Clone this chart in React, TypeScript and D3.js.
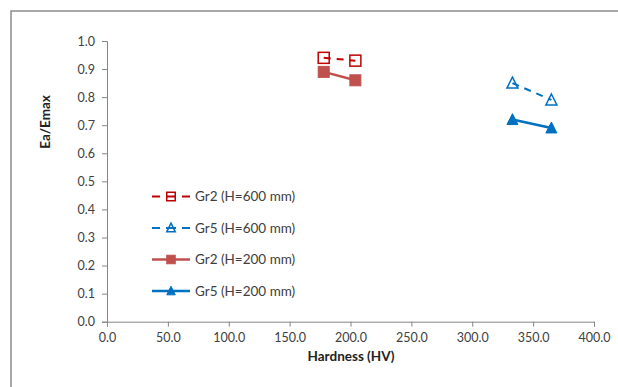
import { useEffect, useRef } from 'react';
import * as d3 from 'd3';

// hardness values (HV) for each grade
const HARD_GR2 = [178, 204];
const HARD_GR5 = [333, 365];

const EA_GR2_600 = [0.94, 0.93];
const EA_GR5_600 = [0.85, 0.79];
const EA_GR2_200 = [0.89, 0.86];
const EA_GR5_200 = [0.72, 0.69];

const X_TICKS = [0, 50, 100, 150, 200, 250, 300, 350, 400];
const Y_TICKS = [0, 0.1, 0.2, 0.3, 0.4, 0.5, 0.6, 0.7, 0.8, 0.9, 1.0];

const SERIES_NAMES = ['Gr2 (H=600 mm)', 'Gr5 (H=600 mm)', 'Gr2 (H=200 mm)', 'Gr5 (H=200 mm)'];

interface Series {
  name: string;
  xs: number[];
  ys: number[];
  color: string;
  dashed: boolean;
  marker: 'square' | 'triangle';
  filled: boolean;
}

const SERIES: Series[] = [
  { name: SERIES_NAMES[0], xs: HARD_GR2, ys: EA_GR2_600, color: '#C00000', dashed: true, marker: 'square', filled: false },
  { name: SERIES_NAMES[1], xs: HARD_GR5, ys: EA_GR5_600, color: '#0070C0', dashed: true, marker: 'triangle', filled: false },
  { name: SERIES_NAMES[2], xs: HARD_GR2, ys: EA_GR2_200, color: '#C0504D', dashed: false, marker: 'square', filled: true },
  { name: SERIES_NAMES[3], xs: HARD_GR5, ys: EA_GR5_200, color: '#0070C0', dashed: false, marker: 'triangle', filled: true },
];

const FONT = 'Lato, "Open Sans", sans-serif';

export default function App() {
  const svgRef = useRef<SVGSVGElement>(null);

  useEffect(() => {
    if (!svgRef.current) return;
    const svg = d3.select(svgRef.current);
    svg.selectAll('*').remove();

    const x = d3.scaleLinear().domain([0, 400]).range([107, 594]);
    const y = d3.scaleLinear().domain([0, 1]).range([321.7, 41]);

    // outer frame
    svg
      .append('rect')
      .attr('x', 11)
      .attr('y', 11)
      .attr('width', 640)
      .attr('height', 400)
      .attr('fill', 'white')
      .attr('stroke', '#8c8c8c')
      .attr('stroke-width', 1.5);

    const styleAxis = (g: d3.Selection<SVGGElement, unknown, null, undefined>) => {
      g.selectAll('path, line').attr('stroke', '#868686');
      g.selectAll('text')
        .style('font-family', FONT)
        .style('font-size', '12.5px')
        .attr('fill', '#404040');
    };

    svg
      .append('g')
      .attr('transform', `translate(0,${y(0)})`)
      .call(
        d3.axisBottom(x).tickValues(X_TICKS).tickFormat(d3.format('.1f')).tickSizeOuter(0).tickSize(5).tickPadding(6)
      )
      .call(styleAxis);

    svg
      .append('g')
      .attr('transform', `translate(${x(0)},0)`)
      .call(
        d3.axisLeft(y).tickValues(Y_TICKS).tickFormat(d3.format('.1f')).tickSizeOuter(0).tickSize(5).tickPadding(7)
      )
      .call(styleAxis);

    svg
      .append('text')
      .attr('x', 351)
      .attr('y', 361)
      .attr('text-anchor', 'middle')
      .style('font-family', FONT)
      .style('font-size', '13.5px')
      .style('font-weight', 'bold')
      .attr('fill', '#222')
      .text('Hardness (HV)');

    svg
      .append('text')
      .attr('transform', `translate(50,122) rotate(-90)`)
      .attr('text-anchor', 'middle')
      .style('font-family', FONT)
      .style('font-size', '13.5px')
      .style('font-weight', 'bold')
      .attr('fill', '#222')
      .text('Ea/Emax');

    const drawMarker = (
      g: d3.Selection<SVGGElement, unknown, null, undefined>,
      s: Series,
      cx: number,
      cy: number,
      size: number
    ) => {
      if (s.marker === 'square') {
        g.append('rect')
          .attr('x', cx - size / 2)
          .attr('y', cy - size / 2)
          .attr('width', size)
          .attr('height', size)
          .attr('fill', s.filled ? s.color : 'none')
          .attr('stroke', s.color)
          .attr('stroke-width', s.filled ? 1 : 1.5);
      } else {
        const h = size * 0.9;
        const pts = [
          [cx, cy - h / 2 - 1],
          [cx + size / 2, cy + h / 2],
          [cx - size / 2, cy + h / 2],
        ];
        g.append('path')
          .attr('d', d3.line()(pts as [number, number][]) + 'Z')
          .attr('fill', s.filled ? s.color : 'none')
          .attr('stroke', s.color)
          .attr('stroke-width', s.filled ? 1 : 1.5);
      }
    };

    const plot = svg.append('g');
    SERIES.forEach((s) => {
      const pts = s.xs.map((v, i) => [x(v), y(s.ys[i])] as [number, number]);
      plot
        .append('path')
        .attr('d', d3.line()(pts))
        .attr('fill', 'none')
        .attr('stroke', s.color)
        .attr('stroke-width', s.dashed ? 2 : 2.5)
        .attr('stroke-dasharray', s.dashed ? '7,6' : null);
      pts.forEach(([px, py]) => drawMarker(plot, s, px, py, 11));
    });

    // legend
    const legend = svg.append('g');
    const rowY = [196.5, 228, 259.5, 291];
    SERIES.forEach((s, i) => {
      const ly = rowY[i];
      const row = legend.append('g') as d3.Selection<SVGGElement, unknown, null, undefined>;
      row
        .append('line')
        .attr('x1', 152)
        .attr('x2', 190)
        .attr('y1', ly)
        .attr('y2', ly)
        .attr('stroke', s.color)
        .attr('stroke-width', s.dashed ? 2 : 2.5)
        .attr('stroke-dasharray', s.dashed ? '8,6,10,6,8' : null);
      drawMarker(row, s, 171, ly, 8.5);
      row
        .append('text')
        .attr('x', 195)
        .attr('y', ly)
        .attr('dy', '0.35em')
        .style('font-family', FONT)
        .style('font-size', '13.5px')
        .attr('fill', '#404040')
        .text(s.name);
    });
  }, []);

  return (
    <div style={{ position: 'absolute', left: 0, top: 0 }}>
      <svg ref={svgRef} width={618} height={387} style={{ display: 'block', background: 'white' }} />
    </div>
  );
}
